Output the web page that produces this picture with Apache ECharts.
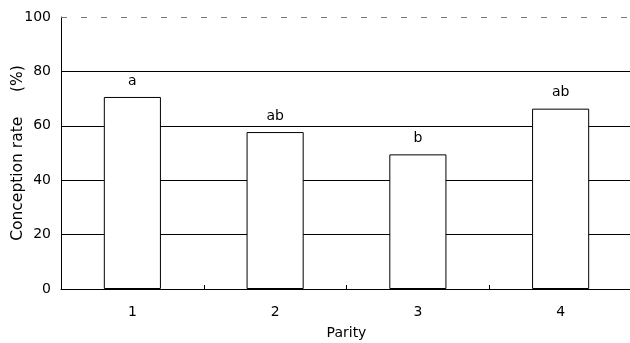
<!DOCTYPE html>
<html><head><meta charset="utf-8">
<script src="https://cdn.jsdelivr.net/npm/echarts@6/dist/echarts.min.js"></script>
<style>html,body{margin:0;padding:0;background:#fff}#c{width:630px;height:343px}</style>
</head><body><div id="c"></div>
<script>
const categories = ['1', '2', '3', '4'];
const conceptionRate = [70.6, 57.7, 49.5, 66.3];
const significance = ['a', 'ab', 'b', 'ab'];
const yTicks = [0, 20, 40, 60, 80, 100];

const chart = echarts.init(document.getElementById('c'));
const font = 'DejaVu Sans, Arial, sans-serif';
chart.setOption({
  animation: false,
  grid: {left: 61, right: -2, top: 17, bottom: 54, containLabel: false, outerBoundsMode: 'none'},
  xAxis: {
    type: 'category', data: categories,
    name: 'Parity', nameLocation: 'middle', nameGap: 37,
    nameTextStyle: {color: '#000', fontSize: 14, fontFamily: font},
    axisLine: {lineStyle: {color: '#000', width: 1}},
    axisTick: {show: true, inside: true, length: 4, lineStyle: {color: '#000'}},
    axisLabel: {color: '#000', fontSize: 14, fontFamily: font, margin: 16}
  },
  yAxis: {
    type: 'value', min: yTicks[0], max: yTicks[yTicks.length - 1], interval: 20,
    name: 'Conception rate     (%)', nameLocation: 'middle', nameGap: 35, nameMoveOverlap: false,
    nameTextStyle: {color: '#000', fontSize: 15.5, fontFamily: font},
    axisLine: {show: true, lineStyle: {color: '#000', width: 1}},
    axisTick: {show: false},
    axisLabel: {color: '#000', fontSize: 14, fontFamily: font, margin: 10},
    splitLine: {show: true, lineStyle: {color: ['#000', '#000', '#000', '#000', '#000', 'rgba(0,0,0,0)'], width: 1}}
  },
  series: [{
    type: 'bar', data: conceptionRate, barWidth: '40%',
    itemStyle: {color: '#fff', borderColor: '#000', borderWidth: 1},
    label: {
      show: true, position: 'top', distance: 9, color: '#000', fontSize: 14, fontFamily: font,
      formatter: p => significance[p.dataIndex]
    },
    markLine: {
      silent: true, symbol: 'none', label: {show: false},
      lineStyle: {color: '#777', type: [6, 14], width: 1},
      data: [{yAxis: yTicks[yTicks.length - 1]}]
    }
  }]
});
</script></body></html>
